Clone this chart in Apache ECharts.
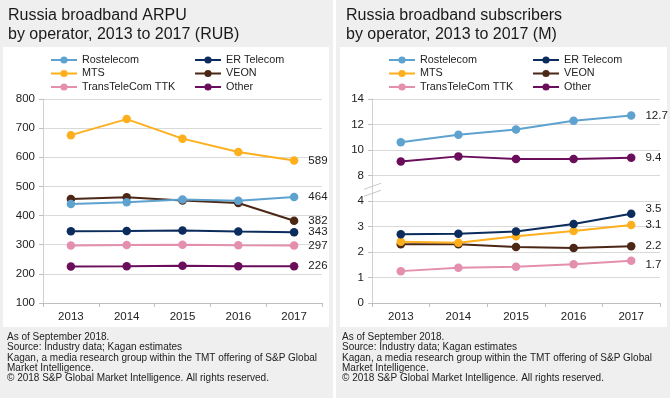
<!DOCTYPE html>
<html>
<head>
<meta charset="utf-8">
<script src="https://cdn.jsdelivr.net/npm/echarts@6/dist/echarts.min.js"></script>
<style>
  html, body { margin: 0; padding: 0; }
  body { width: 670px; height: 398px; background: #efefef; position: relative; overflow: hidden; }
  .divider { position: absolute; left: 333px; top: 0; width: 3px; height: 398px; background: #fff; }
  #chartLeft { position: absolute; left: 0; top: 0; width: 333px; height: 398px; }
  #chartRight { position: absolute; left: 336px; top: 0; width: 334px; height: 398px; }
</style>
</head>
<body>
<div class="divider"></div>
<div id="chartLeft"></div>
<div id="chartRight"></div>
<script>
// categories
const years = ['2013', '2014', '2015', '2016', '2017'];
const operators = ['Rostelecom', 'ER Telecom', 'MTS', 'VEON', 'TransTeleCom TTK', 'Other'];
const colors = ['#5ea2cf', '#0b2c5c', '#fdaf1d', '#4b2716', '#e48fae', '#6a0d5b'];

// ARPU (RUB)
const arpuRostelecom = [440, 446, 455, 451, 464];
const arpuErTelecom = [346, 347, 349, 345, 343];
const arpuMts = [676, 731, 664, 618, 589];
const arpuVeon = [457, 463, 452, 443, 382];
const arpuTtk = [297, 299, 300, 298, 297];
const arpuOther = [225, 226, 228, 226, 226];

// subscribers (M)
const subsRostelecom = [10.6, 11.2, 11.6, 12.3, 12.7];
const subsErTelecom = [2.7, 2.72, 2.8, 3.1, 3.5];
const subsMts = [2.4, 2.36, 2.62, 2.82, 3.06];
const subsVeon = [2.3, 2.3, 2.2, 2.16, 2.23];
const subsTtk = [1.25, 1.38, 1.42, 1.52, 1.66];
const subsOther = [9.1, 9.5, 9.3, 9.3, 9.4];

// y tick labels of the broken subscribers axis (0-4, break, 8-14)
const subsTicks = ['0', '1', '2', '3', '4', '8', '10', '12', '14'];

const footer = [
  'As of September 2018.',
  'Source: Industry data; Kagan estimates',
  'Kagan, a media research group within the TMT offering of S&P Global',
  'Market Intelligence.',
  '\u00a9 2018 S&P Global Market Intelligence. All rights reserved.'
].join('\n');

const arpuData = [arpuRostelecom, arpuErTelecom, arpuMts, arpuVeon, arpuTtk, arpuOther];
const subsData = [subsRostelecom, subsErTelecom, subsMts, subsVeon, subsTtk, subsOther];

// broken axis: values up to 4 are 1:1, above 8 each unit step = 2
function breakScale(v) {
  return v <= 4 ? v : 5 + (v - 8) / 2;
}

const font = 'Liberation Sans';

function legends(left1, left2) {
  const base = {
    orient: 'vertical',
    top: 49,
    itemWidth: 26,
    itemHeight: 9,
    itemGap: 1.5,
    textStyle: { fontSize: 10.8, color: '#222', fontFamily: font, lineHeight: 12 },
    selectedMode: false
  };
  return [
    Object.assign({}, base, { left: left1, data: [operators[0], operators[2], operators[4]] }),
    Object.assign({}, base, { left: left2, data: [operators[1], operators[3], operators[5]] })
  ];
}

function makeSeries(dataSets, toItem, labelFmt, offsets) {
  return operators.map(function (name, i) {
    return {
      name: name,
      type: 'line',
      data: dataSets[i].map(toItem),
      symbol: 'circle',
      symbolSize: 8.5,
      color: colors[i],
      lineStyle: { width: 2, color: colors[i] },
      itemStyle: { color: colors[i] },
      z: 10 - i,
      label: {
        show: true,
        position: 'right',
        distance: 10,
        offset: offsets[i] || [0, 0],
        color: '#222',
        fontSize: 11.5,
        fontFamily: font,
        formatter: function (p) {
          return p.dataIndex === years.length - 1 ? labelFmt(p) : '';
        }
      },
      animation: false
    };
  });
}

function baseOption(title, titleX, panelX, panelW, footerX) {
  return {
    animation: false,
    title: {
      text: title,
      left: titleX,
      top: 1,
      textStyle: { fontSize: 16, fontWeight: 'normal', color: '#1a1a1a', fontFamily: font, lineHeight: 19 }
    },
    graphic: [
      { type: 'rect', z: -10, shape: { x: panelX, y: 47, width: panelW, height: 280 }, style: { fill: '#fff' } },
      {
        type: 'text', left: footerX, top: 332,
        style: { text: footer, fontSize: 10, lineHeight: 10.3, fill: '#222', fontFamily: font }
      }
    ]
  };
}

function xAxisOpt() {
  return {
    type: 'category',
    data: years,
    boundaryGap: true,
    axisLine: { lineStyle: { color: '#bfbfbf', width: 1 } },
    axisTick: { show: true, length: 4, lineStyle: { color: '#bfbfbf' } },
    axisLabel: { color: '#222', fontSize: 11.5, fontFamily: font, margin: 8 },
    splitLine: { show: false }
  };
}

function yAxisOpt(min, max, interval, fmt) {
  return {
    type: 'value',
    min: min, max: max, interval: interval,
    axisLine: { show: true, lineStyle: { color: '#d0d0d0' } },
    axisTick: { show: true, length: 4, lineStyle: { color: '#bfbfbf' } },
    axisLabel: { color: '#222', fontSize: 11.5, fontFamily: font, margin: 8, formatter: fmt },
    splitLine: { lineStyle: { color: '#d9d9d9', width: 1 } }
  };
}

// left chart: ARPU
const leftChart = echarts.init(document.getElementById('chartLeft'));
const leftOpt = baseOption('Russia broadband ARPU\nby operator, 2013 to 2017 (RUB)', 3, 3, 326, 7);
leftOpt.legend = legends(45, 189);
leftOpt.grid = { left: 43, right: 11, top: 99, bottom: 95 };
leftOpt.xAxis = xAxisOpt();
leftOpt.yAxis = yAxisOpt(100, 800, 100);
leftOpt.series = makeSeries(arpuData, function (v) { return v; },
  function (p) { return String(p.value); }, []);
leftChart.setOption(leftOpt);

// right chart: subscribers, broken axis
const rightChart = echarts.init(document.getElementById('chartRight'));
const rightOpt = baseOption('Russia broadband subscribers\nby operator, 2013 to 2017 (M)', 5, 4, 327, 6);
rightOpt.legend = legends(47, 191);
rightOpt.grid = { left: 36, right: 10, top: 99, bottom: 95 };
rightOpt.xAxis = xAxisOpt();
rightOpt.yAxis = yAxisOpt(0, 8, 1, function (v) { return subsTicks[v]; });
rightOpt.series = makeSeries(subsData,
  function (v) { return { value: breakScale(v), raw: v }; },
  function (p) { return p.data.raw.toFixed(1); },
  [[0, 0], [0, -5], [0, 0], [0, 0], [0, 4], [0, 0]]);
rightChart.setOption(rightOpt);

// break marks on the y axis between 4 and 8
const bp = rightChart.convertToPixel({ gridIndex: 0 }, ['2013', 4.5]);
const axisX = 36;
rightChart.setOption({
  graphic: rightOpt.graphic.concat([
    { type: 'line', z: 50, shape: { x1: axisX - 8, y1: bp[1] + 1, x2: axisX + 9, y2: bp[1] - 5 }, style: { stroke: '#c8c8c8', lineWidth: 1 } },
    { type: 'line', z: 50, shape: { x1: axisX - 8, y1: bp[1] + 8, x2: axisX + 9, y2: bp[1] + 2 }, style: { stroke: '#c8c8c8', lineWidth: 1 } }
  ])
});
</script>
</body>
</html>
